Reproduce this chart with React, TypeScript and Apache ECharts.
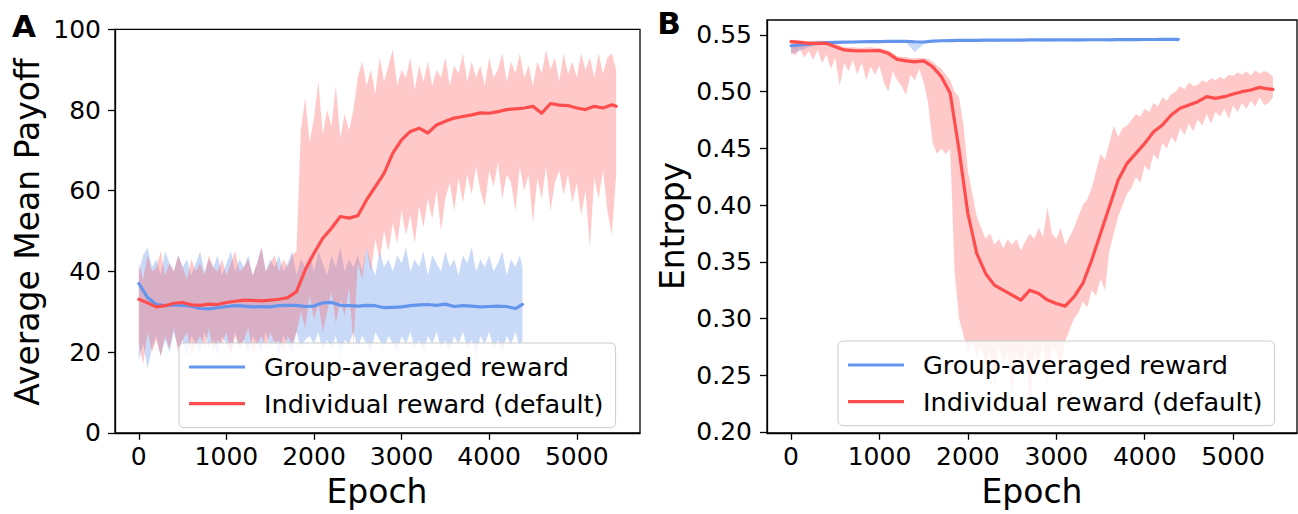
import React, { useEffect, useRef } from "react";
import * as echarts from "echarts";

const FONT = '"DejaVu Sans", sans-serif';

// ---------- epochs ----------
// smoothed curves (every 100 epochs)
const EPOCHS_RED = [0,100,200,300,400,500,600,700,800,900,1000,1100,1200,1300,1400,1500,1600,1700,1800,1900,2000,2100,2200,2300,2400,2500,2600,2700,2800,2900,3000,3100,3200,3300,3400,3500,3600,3700,3800,3900,4000,4100,4200,4300,4400,4500,4600,4700,4800,4900,5000,5100,5200,5300,5400,5450];
const EPOCHS_BLUE = [0,100,200,300,400,500,600,700,800,900,1000,1100,1200,1300,1400,1500,1600,1700,1800,1900,2000,2100,2200,2300,2400,2500,2600,2700,2800,2900,3000,3100,3200,3300,3400,3500,3600,3700,3800,3900,4000,4100,4200,4300,4380];
// raw (unsmoothed) envelopes (every 50 epochs)
const EPOCHS_RED_RAW = [
  0,50,100,150,200,250,300,350,400,450,
  500,550,600,650,700,750,800,850,900,950,
  1000,1050,1100,1150,1200,1250,1300,1350,1400,1450,
  1500,1550,1600,1650,1700,1750,1800,1850,1900,1950,
  2000,2050,2100,2150,2200,2250,2300,2350,2400,2450,
  2500,2550,2600,2650,2700,2750,2800,2850,2900,2950,
  3000,3050,3100,3150,3200,3250,3300,3350,3400,3450,
  3500,3550,3600,3650,3700,3750,3800,3850,3900,3950,
  4000,4050,4100,4150,4200,4250,4300,4350,4400,4450,
  4500,4550,4600,4650,4700,4750,4800,4850,4900,4950,
  5000,5050,5100,5150,5200,5250,5300,5350,5400,5450];
const EPOCHS_BLUE_RAW = [
  0,50,100,150,200,250,300,350,400,450,
  500,550,600,650,700,750,800,850,900,950,
  1000,1050,1100,1150,1200,1250,1300,1350,1400,1450,
  1500,1550,1600,1650,1700,1750,1800,1850,1900,1950,
  2000,2050,2100,2150,2200,2250,2300,2350,2400,2450,
  2500,2550,2600,2650,2700,2750,2800,2850,2900,2950,
  3000,3050,3100,3150,3200,3250,3300,3350,3400,3450,
  3500,3550,3600,3650,3700,3750,3800,3850,3900,3950,
  4000,4050,4100,4150,4200,4250,4300,4350,4380];

const X_TICKS = [0, 1000, 2000, 3000, 4000, 5000];
const Y_TICKS_B = [0.2, 0.25, 0.3, 0.35, 0.4, 0.45, 0.5, 0.55];

const NAME_GROUP = "Group-averaged reward";
const NAME_INDIV = "Individual reward (default)";

// ---------- Panel A: Average Mean Payoff ----------
const A_RED_SMOOTH = [
  33.1,32.2,31.2,31.5,32.1,32.3,31.7,31.6,31.9,31.8,
  32.3,32.6,32.9,32.8,32.7,32.9,33.1,33.5,35.0,40.4,
  44.5,48.2,50.7,53.6,53.2,53.8,57.7,61.0,64.3,69.3,
  72.6,74.7,75.5,74.3,76.3,77.2,78.0,78.4,78.8,79.3,
  79.2,79.6,80.1,80.3,80.5,80.9,79.2,81.6,81.2,81.1,
  80.5,80.1,80.9,80.5,81.3,80.9];
const A_RED_RAW_HIGH = [
  42,38,44,40,41,45,39,42,40,44,
  41,38,43,40,42,39,44,41,40,43,
  39,42,45,40,41,43,39,42,46,40,
  42,44,40,43,41,44,45,75,83,72,
  78,87,74,80,76,86,73,79,75,80,
  88,92,86,90,84,93,87,91,95,86,
  90,88,93,85,91,87,92,86,90,88,
  93,86,91,89,94,87,92,88,91,86,
  93,88,90,94,87,92,89,94,88,91,
  86,92,89,95,90,93,87,94,89,92,
  88,94,90,93,88,94,89,93,94,90];
const A_RED_RAW_LOW = [
  22,17,25,20,23,19,24,21,26,20,
  23,25,19,22,24,21,26,20,23,22,
  25,19,24,21,23,26,20,22,24,21,
  25,22,23,20,24,22,25,30,26,34,
  28,32,25,30,35,27,33,29,36,22,
  42,38,46,40,48,43,50,45,52,47,
  55,49,54,47,56,51,58,53,60,50,
  58,62,55,63,57,64,59,66,60,56,
  65,61,67,58,64,62,55,66,60,64,
  52,63,58,66,55,62,65,59,64,57,
  62,54,60,46,63,58,65,55,49,64];
const A_BLUE_SMOOTH = [
  37.0,33.5,31.8,31.5,31.7,31.6,31.4,30.8,30.7,31.0,
  31.3,31.5,31.4,31.2,31.3,31.2,31.5,31.6,31.6,31.3,
  31.4,32.2,32.3,31.6,31.5,31.4,31.6,31.5,31.0,31.1,
  31.2,31.5,31.7,31.8,31.6,31.9,31.3,31.5,31.4,31.2,
  31.3,31.4,31.3,30.8,31.8];
const A_BLUE_RAW_HIGH = [
  40,44,46,41,43,39,45,42,40,44,
  41,43,39,42,45,40,43,41,44,39,
  42,45,40,43,41,44,39,42,46,40,
  43,41,44,40,42,45,39,43,41,44,
  40,45,42,39,44,41,46,40,43,41,
  44,40,46,42,39,45,41,43,40,44,
  42,46,40,43,41,45,39,44,42,40,
  45,41,43,39,44,42,46,40,43,41,
  44,40,42,45,39,43,41,44,41];
const A_BLUE_RAW_LOW = [
  18,22,16,21,24,19,23,20,25,21,
  23,19,24,22,20,25,21,23,19,24,
  22,20,25,21,23,19,24,22,20,25,
  21,23,19,24,22,20,25,21,23,24,
  22,25,20,23,21,24,19,23,22,25,
  21,24,22,20,25,23,21,24,22,20,
  24,22,25,21,23,20,24,22,25,21,
  23,20,24,22,25,21,23,19,24,22,
  25,21,23,20,24,22,25,21,23];

// ---------- Panel B: Entropy ----------
const B_RED_SMOOTH = [
  0.5441,0.5435,0.5426,0.5427,0.5426,0.5397,0.5368,0.5362,0.5359,0.5361,
  0.5362,0.5338,0.5285,0.5271,0.5262,0.5271,0.5221,0.5132,0.4985,0.4485,
  0.3926,0.3574,0.3397,0.3294,0.3250,0.3206,0.3162,0.3250,0.3221,0.3162,
  0.3132,0.3109,0.3191,0.3309,0.3515,0.3750,0.3985,0.4221,0.4368,0.4456,
  0.4544,0.4647,0.4706,0.4794,0.4853,0.4882,0.4912,0.4956,0.4941,0.4956,
  0.4979,0.5000,0.5015,0.5038,0.5024,0.5020];
const B_RED_RAW_HIGH = [
  0.5460,0.5455,0.5452,0.5448,0.5445,0.5447,0.5450,0.5448,0.5445,0.5435,
  0.5425,0.5410,0.5395,0.5390,0.5395,0.5388,0.5385,0.5390,0.5392,0.5388,
  0.5385,0.5375,0.5365,0.5340,0.5315,0.5308,0.5305,0.5298,0.5295,0.5300,
  0.5295,0.5290,0.5265,0.5230,0.5200,0.5150,0.5100,0.5000,0.4950,0.4700,
  0.4300,0.4100,0.3900,0.3800,0.3700,0.3750,0.3650,0.3700,0.3620,0.3700,
  0.3650,0.3700,0.3600,0.3680,0.3750,0.3700,0.3800,0.3720,0.3980,0.3750,
  0.3700,0.3800,0.3650,0.3720,0.3800,0.3900,0.4000,0.4050,0.4150,0.4300,
  0.4450,0.4400,0.4550,0.4700,0.4600,0.4680,0.4700,0.4750,0.4800,0.4780,
  0.4850,0.4820,0.4900,0.4870,0.4950,0.4920,0.4980,0.5000,0.5050,0.5020,
  0.5080,0.5050,0.5060,0.5100,0.5080,0.5120,0.5100,0.5130,0.5110,0.5150,
  0.5140,0.5170,0.5150,0.5180,0.5140,0.5190,0.5160,0.5180,0.5170,0.5130];
const B_RED_RAW_LOW = [
  0.5350,0.5320,0.5380,0.5300,0.5360,0.5280,0.5370,0.5250,0.5330,0.5200,
  0.5300,0.5050,0.5250,0.5180,0.5280,0.5150,0.5260,0.5100,0.5220,0.5150,
  0.5230,0.5080,0.5000,0.5180,0.5100,0.5050,0.4970,0.5150,0.5100,0.5200,
  0.5080,0.4900,0.4550,0.4450,0.4500,0.4450,0.4500,0.3400,0.3000,0.2850,
  0.2700,0.2800,0.2650,0.2750,0.2600,0.2700,0.2400,0.2750,0.2600,0.2700,
  0.2300,0.2700,0.2500,0.2750,0.2200,0.2700,0.2600,0.2800,0.2400,0.2750,
  0.2700,0.2550,0.2800,0.2900,0.3000,0.3050,0.3150,0.3100,0.3250,0.3200,
  0.3350,0.3250,0.3600,0.3750,0.3900,0.4000,0.4100,0.4150,0.4250,0.4200,
  0.4350,0.4300,0.4450,0.4400,0.4550,0.4500,0.4600,0.4550,0.4680,0.4620,
  0.4720,0.4650,0.4760,0.4700,0.4800,0.4720,0.4820,0.4780,0.4850,0.4760,
  0.4880,0.4820,0.4900,0.4850,0.4920,0.4870,0.4950,0.4880,0.4900,0.4950];
const B_BLUE_SMOOTH = [
  0.5405,0.5412,0.5420,0.5428,0.5432,0.5435,0.5437,0.5438,0.5440,0.5441,
  0.5442,0.5443,0.5444,0.5444,0.5440,0.5438,0.5446,0.5449,0.5451,0.5452,
  0.5453,0.5453,0.5454,0.5454,0.5455,0.5455,0.5455,0.5456,0.5456,0.5456,
  0.5456,0.5457,0.5457,0.5457,0.5458,0.5458,0.5458,0.5459,0.5459,0.5459,
  0.5460,0.5460,0.5461,0.5461,0.5462];
const B_BLUE_RAW_HIGH = [
  0.5415,0.5422,0.5430,0.5436,0.5440,0.5443,0.5445,0.5446,0.5448,0.5449,
  0.5450,0.5451,0.5452,0.5452,0.5450,0.5447,0.5454,0.5457,0.5459,0.5460,
  0.5461,0.5461,0.5462,0.5462,0.5463,0.5463,0.5463,0.5464,0.5464,0.5464,
  0.5464,0.5465,0.5465,0.5465,0.5466,0.5466,0.5466,0.5467,0.5467,0.5467,
  0.5468,0.5468,0.5469,0.5469,0.5470];
const B_BLUE_RAW_LOW = [
  0.5330,0.5360,0.5395,0.5410,0.5418,0.5420,0.5425,0.5426,0.5428,0.5429,
  0.5430,0.5432,0.5433,0.5433,0.5350,0.5420,0.5436,0.5440,0.5442,0.5443,
  0.5444,0.5444,0.5445,0.5440,0.5446,0.5446,0.5443,0.5447,0.5447,0.5441,
  0.5447,0.5448,0.5442,0.5448,0.5449,0.5449,0.5438,0.5450,0.5450,0.5444,
  0.5451,0.5451,0.5446,0.5452,0.5440];

// ---------- styles ----------
const BLUE = "#6495ED";
const RED = "#FF4D4D";
const BLUE_RAW = "rgba(100,149,237,0.35)";
const RED_RAW = "rgba(255,77,77,0.3)";

const pairs = (xs: number[], ys: number[]) => xs.map((x, i) => [x, ys[i]]);

function band(idx: number, xs: number[], lo: number[], hi: number[], fill: string, name: string) {
  return {
    type: "custom",
    name,
    xAxisIndex: idx,
    yAxisIndex: idx,
    silent: true,
    clip: true,
    data: [[xs[0], lo[0]]],
    renderItem: (_p: any, api: any) => {
      const pts: number[][] = [];
      for (let i = 0; i < xs.length; i++) pts.push(api.coord([xs[i], hi[i]]));
      for (let i = xs.length - 1; i >= 0; i--) pts.push(api.coord([xs[i], lo[i]]));
      return { type: "polygon", shape: { points: pts }, style: { fill, stroke: null } };
    },
  };
}

function line(idx: number, xs: number[], ys: number[], color: string, name: string) {
  return {
    type: "line",
    name,
    xAxisIndex: idx,
    yAxisIndex: idx,
    data: pairs(xs, ys),
    showSymbol: false,
    symbol: "none",
    silent: true,
    clip: true,
    lineStyle: { color, width: 3.2, join: "round", cap: "round" },
    itemStyle: { color },
    emphasis: { disabled: true },
  };
}

const axisLineStyle = { color: "#000", width: 1.3 };
const labelStyle = { fontSize: 25, fontFamily: FONT, color: "#000" };

function xAxis(idx: number) {
  return {
    type: "value",
    gridIndex: idx,
    min: -272,
    max: 5722,
    axisLine: { show: true, onZero: false, lineStyle: axisLineStyle },
    axisTick: { show: true, length: 7, lineStyle: axisLineStyle, customValues: X_TICKS },
    axisLabel: { ...labelStyle, margin: 11, customValues: X_TICKS, formatter: (v: number) => String(v) },
    splitLine: { show: false },
  };
}

function legend(left: number, top: number) {
  return {
    left,
    top,
    orient: "vertical",
    data: [NAME_GROUP, NAME_INDIV],
    selectedMode: false,
    icon: "rect",
    itemWidth: 56,
    itemHeight: 3.2,
    itemGap: 10.7,
    padding: [11, 12, 11, 10],
    backgroundColor: "rgba(255,255,255,0.8)",
    borderColor: "#cccccc",
    borderWidth: 1,
    borderRadius: 5,
    z: 10,
    textStyle: { fontSize: 25.6, fontFamily: FONT, color: "#000", padding: [0, 0, 0, 14] },
  };
}

const titleStyle = { fontSize: 33, fontFamily: FONT, fill: "#000", textAlign: "center", textVerticalAlign: "middle" };

const option: any = {
  animation: false,
  backgroundColor: "#fff",
  grid: [
    { left: 115, top: 29.3, width: 525, height: 403.5, show: true, borderColor: "#000", borderWidth: 1.3, backgroundColor: "transparent" },
    { left: 767, top: 20, width: 530, height: 412.8, show: true, borderColor: "#000", borderWidth: 1.3, backgroundColor: "transparent" },
  ],
  xAxis: [xAxis(0), xAxis(1)],
  yAxis: [
    {
      type: "value",
      gridIndex: 0,
      min: 0,
      max: 100,
      interval: 20,
      axisLine: { show: true, onZero: false, lineStyle: axisLineStyle },
      axisTick: { show: true, length: 7, lineStyle: axisLineStyle },
      axisLabel: { ...labelStyle, margin: 14 },
      splitLine: { show: false },
    },
    {
      type: "value",
      gridIndex: 1,
      min: 0.1992,
      max: 0.5632,
      axisLine: { show: true, onZero: false, lineStyle: axisLineStyle },
      axisTick: { show: true, length: 7, lineStyle: axisLineStyle, customValues: Y_TICKS_B },
      axisLabel: { ...labelStyle, margin: 15, customValues: Y_TICKS_B, formatter: (v: number) => v.toFixed(2) },
      splitLine: { show: false },
    },
  ],
  legend: [legend(179, 343), legend(838, 341)],
  graphic: [
    { type: "text", x: 24, y: 26, style: { text: "A", fontSize: 31, fontWeight: "bold", fontFamily: FONT, fill: "#000", textAlign: "center", textVerticalAlign: "middle" } },
    { type: "text", x: 669, y: 23, style: { text: "B", fontSize: 31, fontWeight: "bold", fontFamily: FONT, fill: "#000", textAlign: "center", textVerticalAlign: "middle" } },
    { type: "text", x: 27, y: 232, rotation: Math.PI / 2, style: { text: "Average Mean Payoff", ...titleStyle } },
    { type: "text", x: 672, y: 226, rotation: Math.PI / 2, style: { text: "Entropy", ...titleStyle } },
    { type: "text", x: 377, y: 491, style: { text: "Epoch", ...titleStyle } },
    { type: "text", x: 1032, y: 491, style: { text: "Epoch", ...titleStyle } },
  ],
  series: [
    band(0, EPOCHS_BLUE_RAW, A_BLUE_RAW_LOW, A_BLUE_RAW_HIGH, BLUE_RAW, "a-blue-raw"),
    line(0, EPOCHS_BLUE, A_BLUE_SMOOTH, BLUE, NAME_GROUP),
    band(0, EPOCHS_RED_RAW, A_RED_RAW_LOW, A_RED_RAW_HIGH, RED_RAW, "a-red-raw"),
    line(0, EPOCHS_RED, A_RED_SMOOTH, RED, NAME_INDIV),
    band(1, EPOCHS_BLUE, B_BLUE_RAW_LOW, B_BLUE_RAW_HIGH, BLUE_RAW, "b-blue-raw"),
    line(1, EPOCHS_BLUE, B_BLUE_SMOOTH, BLUE, NAME_GROUP),
    band(1, EPOCHS_RED_RAW, B_RED_RAW_LOW, B_RED_RAW_HIGH, RED_RAW, "b-red-raw"),
    line(1, EPOCHS_RED, B_RED_SMOOTH, RED, NAME_INDIV),
  ],
};

export default function App() {
  const ref = useRef<HTMLDivElement>(null);
  useEffect(() => {
    if (!ref.current) return;
    const chart = echarts.init(ref.current, null, { renderer: "svg" });
    chart.setOption(option);
    return () => chart.dispose();
  }, []);
  return (
    <div
      ref={ref}
      style={{ position: "fixed", left: 0, top: 0, width: 1298, height: 514, background: "#fff" }}
    />
  );
}
